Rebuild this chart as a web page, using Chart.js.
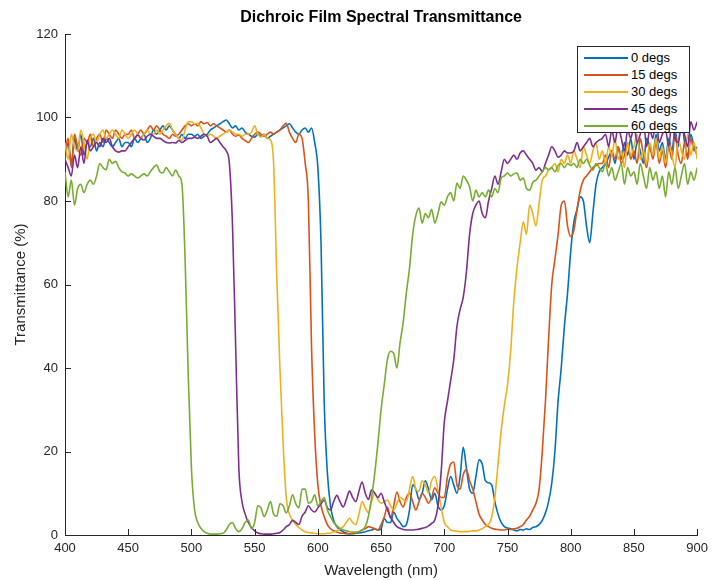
<!DOCTYPE html>
<html>
<head>
<meta charset="utf-8">
<title>Dichroic Film Spectral Transmittance</title>
<script src="https://cdn.jsdelivr.net/npm/chart.js@4.4.1/dist/chart.umd.min.js"></script>
<style>
    html, body { margin: 0; padding: 0; background: #fff; }
    #wrap { position: relative; width: 714px; height: 580px; }
    #legend {
        position: absolute; left: 577px; top: 46px; width: 113px; height: 87px;
        box-sizing: border-box; border: 1px solid #262626; background: #fff;
        font-family: "Liberation Sans", Arial, sans-serif; font-size: 13px; color: #000;
        padding-top: 2px;
    }
    #legend .row { height: 17px; display: flex; align-items: center; white-space: nowrap; }
    #legend .swatch { display: inline-block; width: 44px; height: 2px; margin-left: 6px; margin-right: 3px; }
</style>
</head>
<body>
<div id="wrap">
    <canvas id="chart" width="714" height="580"></canvas>
    <div id="legend"></div>
</div>
<script>
// wavelength grid (nm)
var wavelengths = [
    400, 402.5, 405, 407.5, 410, 412.5, 415, 417.5, 420, 422.5,
    425, 427.5, 430, 432.5, 435, 437.5, 440, 442.5, 445, 447.5,
    450, 452.5, 455, 457.5, 460, 462.5, 465, 467.5, 470, 472.5,
    475, 477.5, 480, 482.5, 485, 487.5, 490, 492.5, 495, 497.5,
    500, 502.5, 505, 507.5, 510, 512.5, 515, 517.5, 520, 522.5,
    525, 527.5, 530, 532.5, 535, 537.5, 540, 542.5, 545, 547.5,
    550, 552.5, 555, 557.5, 560, 562.5, 565, 567.5, 570, 572.5,
    575, 577.5, 580, 582.5, 585, 587.5, 590, 592.5, 595, 597.5,
    600, 602.5, 605, 607.5, 610, 612.5, 615, 617.5, 620, 622.5,
    625, 627.5, 630, 632.5, 635, 637.5, 640, 642.5, 645, 647.5,
    650, 652.5, 655, 657.5, 660, 662.5, 665, 667.5, 670, 672.5,
    675, 677.5, 680, 682.5, 685, 687.5, 690, 692.5, 695, 697.5,
    700, 702.5, 705, 707.5, 710, 712.5, 715, 717.5, 720, 722.5,
    725, 727.5, 730, 732.5, 735, 737.5, 740, 742.5, 745, 747.5,
    750, 752.5, 755, 757.5, 760, 762.5, 765, 767.5, 770, 772.5,
    775, 777.5, 780, 782.5, 785, 787.5, 790, 792.5, 795, 797.5,
    800, 802.5, 805, 807.5, 810, 812.5, 815, 817.5, 820, 822.5,
    825, 827.5, 830, 832.5, 835, 837.5, 840, 842.5, 845, 847.5,
    850, 852.5, 855, 857.5, 860, 862.5, 865, 867.5, 870, 872.5,
    875, 877.5, 880, 882.5, 885, 887.5, 890, 892.5, 895, 897.5,
    900
];

// transmittance (%) per angle of incidence
var deg0 = [
    90, 94, 89, 95, 92, 96, 91, 94, 93, 95,
    92, 94, 93, 95, 94, 93, 94, 95, 93, 94,
    94, 93, 95, 94, 95, 96, 94, 95, 97, 96,
    97, 98, 97, 98, 97, 96, 95, 96, 95, 96,
    96, 95.5, 96, 95, 95.5, 96, 97, 97.5, 98, 98.5,
    99, 99.4, 98.5, 97.5, 98, 97, 97.5, 96.5, 96, 95.5,
    95.3, 96, 95.5, 96, 95, 95.5, 96, 96.5, 97, 97.5,
    98, 98.5, 97.5, 96.5, 96, 97, 97.5, 96.5, 97.5, 94,
    88, 70, 32, 15, 7, 3.5, 2, 1.2, 0.8, 0.5,
    0.3, 0.3, 0.4, 0.5, 0.6, 0.8, 1, 1.2, 1.5, 1.2,
    1.5, 4, 3, 3, 5.5, 4, 3, 2, 2.5, 6,
    12, 11, 8.5, 10, 13, 11, 8.5, 10, 7, 6,
    7, 11, 14, 12, 10, 14, 21, 16, 11, 10,
    14, 18, 17, 13, 12.5, 12, 8, 5, 3, 2,
    1.7, 1.5, 1.2, 1, 1.3, 1.2, 1.5, 1.3, 1.8, 2,
    2.5, 3.5, 5.3, 8, 12.4, 20, 32, 40, 50, 58,
    68, 75, 78, 81, 80, 74, 70, 77, 84, 87,
    88, 89, 90.5, 92, 89, 93, 90, 94, 91, 95,
    90, 94, 92, 89, 95, 93, 91, 96, 92, 94,
    90, 95, 92, 97, 93, 100, 94, 91, 96, 93,
    91
];
var deg15 = [
    92, 95, 88, 96, 93, 91, 95, 94, 96, 93,
    95, 96, 94, 97, 96, 95, 97, 96, 95, 96,
    96, 97, 95, 96, 97, 96, 97, 98, 97, 98,
    97, 96, 95.5, 95, 96, 95.5, 96, 97, 98, 98.5,
    98, 98.5, 98, 99, 98.5, 98.8, 98, 98.5, 98, 97.5,
    97, 96.5, 97, 96, 95.5, 95.8, 95, 94.5, 94, 95,
    96, 96.5, 96, 95.5, 96, 96.5, 96, 96.5, 97, 98,
    98.6, 96.5, 95, 94, 96, 95, 89, 80, 45, 24,
    12, 7, 4.4, 2.5, 1.5, 1, 0.7, 0.5, 0.4, 0.3,
    0.3, 0.4, 0.5, 0.8, 1.2, 1.5, 2, 1.8, 1.5, 1.2,
    2.5, 4.3, 6.7, 4, 7, 10.3, 8, 6.7, 9, 10,
    8, 6, 8, 10, 9, 7.6, 9, 11.3, 10, 9,
    9, 14, 17, 17.5, 12, 11, 14.5, 15.6, 13, 11,
    8, 5, 3.6, 2.5, 2, 1.6, 1.4, 1.3, 1.2, 1.2,
    1.4, 1.3, 1.5, 1.6, 2, 2.5, 3.6, 4.5, 6, 7.6,
    11, 20, 32, 47, 60, 66, 72, 79, 80, 74,
    71.5, 73, 78, 82.5, 85, 86, 87, 88, 88.5, 89,
    89, 91, 88, 92, 90, 93, 89, 91, 94, 90,
    92, 89, 95, 91, 88, 93, 90, 94, 89, 92,
    88, 93, 90, 96, 91, 89, 94, 90, 95, 92,
    93
];
var deg30 = [
    94, 90, 96, 93, 92, 97, 94, 90, 95, 96,
    94, 96, 97, 95, 96, 97, 96, 95, 97, 96,
    95, 96, 97, 96, 95, 96, 97, 96, 96, 97,
    96, 97, 98, 98.6, 97, 96, 95, 94.6, 97, 99,
    99, 98.5, 98.6, 97.5, 96, 95.5, 96, 95.5, 95, 95.5,
    96, 96.5, 97, 96.5, 96, 96, 95.5, 96, 96, 96.5,
    98, 96, 95.3, 96, 95, 94.6, 89, 62, 40, 22,
    9, 5, 3.5, 2.5, 1.8, 1.2, 0.8, 0.6, 0.5, 0.4,
    0.3, 0.3, 0.3, 0.4, 0.5, 0.7, 1, 1.4, 2, 3,
    4, 3, 2.5, 5, 8, 6.5, 5.3, 8, 10, 8.5,
    7.6, 8, 8.4, 7, 6, 7.5, 9, 8.5, 8, 11,
    14, 11, 10.5, 13, 12, 10, 13, 14, 10.8, 6.7,
    3, 2, 1.2, 1, 0.9, 0.8, 0.8, 0.8, 0.9, 1,
    1, 1.2, 1.5, 2, 2.5, 4.3, 9, 17, 25, 31,
    36, 44, 56, 64, 70, 75, 72, 79, 77, 74,
    79.5, 85, 86, 87.4, 88, 89, 87, 90, 89, 91,
    89, 92, 90, 88, 93, 91, 89, 92, 94, 90,
    92, 89, 93, 91, 95, 90, 92, 88, 94, 91,
    93, 96, 90, 92, 89, 94, 91, 95, 90, 93,
    89, 94, 91, 88, 95, 92, 90, 96, 91, 94,
    90
];
var deg45 = [
    90, 88, 86, 91, 88, 93, 89, 94.6, 92, 93,
    94, 93, 95, 94, 95, 93, 92, 91.7, 92, 92,
    93, 94, 95, 95.8, 95, 94.6, 95.5, 96, 95.5, 95,
    95, 94.5, 94, 93.9, 94, 93.9, 94.5, 94, 94.5, 95,
    95, 95.3, 95, 95.5, 96, 95.5, 94, 94.5, 95, 94,
    93, 92, 89, 74, 45, 16, 8, 5, 3, 1.8,
    1, 0.5, 0.3, 0.2, 0.2, 0.2, 0.3, 0.4, 0.6, 1.2,
    2, 2.5, 3.5, 3, 2.5, 4.5, 5.5, 7, 6, 5.5,
    6.5, 7.5, 8.4, 6.5, 6, 8, 9.5, 8, 6.7, 8.5,
    10.5, 9, 8, 10.5, 12.7, 10, 8.5, 10.8, 10, 9,
    10, 8, 6, 4.3, 3, 2, 1.6, 1.3, 1.2, 1.2,
    1.2, 1.3, 1.4, 1.6, 1.8, 2.2, 2.8, 3.6, 7, 15,
    27, 32, 37, 42, 50, 54, 57, 63, 72, 77,
    79, 80, 77, 76, 80, 83, 86, 84, 87, 90,
    89, 90, 91, 90, 91.5, 92, 91, 90, 89, 87.4,
    88, 87, 89, 91, 93, 92, 90.5, 91, 92, 91.5,
    91.5, 92, 94, 92, 93, 94, 95, 93, 94, 94.6,
    95, 96, 93, 97, 94, 98, 95, 92, 97, 95,
    98, 94, 96, 99, 93, 97, 95, 100, 94, 96,
    97, 93, 99, 95, 94, 98, 96, 93, 99, 97,
    99
];
var deg60 = [
    87, 81, 85, 79, 83, 84, 82, 84, 85, 84,
    86, 89, 88, 87.5, 90, 89, 89.5, 88, 87, 86.7,
    86, 86.5, 86, 85.5, 86, 86.5, 86, 87, 88, 88.6,
    87, 86.7, 88, 87, 86, 87.4, 86, 84, 66, 38,
    16, 6, 3, 1.6, 0.8, 0.4, 0.2, 0.2, 0.2, 0.3,
    0.4, 1.2, 2.5, 3, 1.5, 0.8, 1.5, 3, 3.6, 1.5,
    3, 7, 6.5, 4.4, 6, 8, 5, 4.5, 7.5, 7,
    5.3, 7, 9.6, 7.5, 6.5, 11, 11, 7.6, 8, 9.6,
    7, 8, 9, 6, 4.4, 3, 2.2, 1.6, 1.2, 1,
    0.8, 0.7, 0.7, 0.8, 1.2, 2, 4.5, 9, 14.8, 22,
    30, 36, 42, 44, 43.5, 40, 46, 51, 58, 64,
    72, 76.5, 78.3, 74.7, 77, 76, 78, 74.7, 77, 79.8,
    79, 81, 82, 80, 84.3, 83, 86, 85, 83.4, 80,
    82.6, 81, 82, 81, 82.6, 81, 83, 82, 85.5, 86,
    86.7, 86, 86.5, 86.7, 85, 85.5, 83, 82.6, 84.5, 85,
    86, 87, 88, 87.5, 88, 87, 88.5, 89, 88, 89,
    88.5, 89, 88, 90, 89, 90, 88.5, 87.4, 89, 88,
    87, 89, 86, 88, 85, 87, 89, 84, 88, 86,
    87, 84, 89, 86, 83, 88, 85, 87, 83, 86,
    81, 87, 84, 88, 83, 86, 89, 84, 87, 85,
    88
];

var seriesNames = ['0 degs', '15 degs', '30 degs', '45 degs', '60 degs'];
var seriesValues = [deg0, deg15, deg30, deg45, deg60];
var seriesColors = ['#0072BD', '#D95319', '#EDB120', '#7E2F8E', '#77AC30'];
var chartTitle = 'Dichroic Film Spectral Transmittance';

var fontFamily = '"Liberation Sans", Arial, Helvetica, sans-serif';
var axisColor = '#262626';

// MATLAB style: ticks pointing into the plot, title centred over the axes
var axesDecor = {
    id: 'axesDecor',
    afterDraw: function (chart) {
        var ctx = chart.ctx, area = chart.chartArea;
        var xs = chart.scales.x, ys = chart.scales.y;
        ctx.save();
        ctx.strokeStyle = axisColor;
        ctx.lineWidth = 1;
        ctx.beginPath();
        xs.ticks.forEach(function (t) {
            var px = Math.round(xs.getPixelForValue(t.value)) + 0.5;
            ctx.moveTo(px, area.bottom);
            ctx.lineTo(px, area.bottom - 6);
        });
        ys.ticks.forEach(function (t) {
            var py = Math.round(ys.getPixelForValue(t.value)) + 0.5;
            ctx.moveTo(area.left, py);
            ctx.lineTo(area.left + 6, py);
        });
        ctx.stroke();

        ctx.fillStyle = '#000';
        ctx.font = 'bold 16px ' + fontFamily;
        ctx.textAlign = 'center';
        ctx.textBaseline = 'middle';
        ctx.fillText(chartTitle, (area.left + area.right) / 2, 18);
        ctx.restore();
    }
};

var datasets = seriesValues.map(function (vals, i) {
    return {
        label: seriesNames[i],
        data: vals.map(function (v, j) { return { x: wavelengths[j], y: v }; }),
        borderColor: seriesColors[i],
        backgroundColor: seriesColors[i],
        borderWidth: 1.6,
        pointRadius: 0,
        cubicInterpolationMode: 'monotone',
        fill: false,
        order: seriesValues.length - 1 - i
    };
});

new Chart(document.getElementById('chart').getContext('2d'), {
    type: 'line',
    data: { datasets: datasets },
    options: {
        responsive: false,
        animation: false,
        devicePixelRatio: 1,
        layout: { padding: { left: 0, right: 11, top: 34, bottom: 0 } },
        plugins: {
            legend: { display: false },
            tooltip: { enabled: false },
            title: { display: false }
        },
        scales: {
            x: {
                type: 'linear',
                min: 400,
                max: 900,
                grid: { display: false, drawTicks: false },
                border: { display: true, color: axisColor, width: 1 },
                ticks: {
                    stepSize: 50,
                    color: axisColor,
                    padding: 6,
                    maxRotation: 0,
                    font: { family: fontFamily, size: 13 }
                },
                title: {
                    display: true,
                    text: 'Wavelength (nm)',
                    color: axisColor,
                    font: { family: fontFamily, size: 15 },
                    padding: { top: 0, bottom: 0 }
                },
                afterFit: function (scale) { scale.height = 45; }
            },
            y: {
                min: 0,
                max: 120,
                grid: { display: false, drawTicks: false },
                border: { display: true, color: axisColor, width: 1 },
                ticks: {
                    stepSize: 20,
                    color: axisColor,
                    padding: 7,
                    font: { family: fontFamily, size: 13 }
                },
                title: {
                    display: true,
                    text: 'Transmittance (%)',
                    color: axisColor,
                    font: { family: fontFamily, size: 15 },
                    padding: { top: 12, bottom: 0 }
                },
                afterFit: function (scale) { scale.width = 65; }
            }
        }
    },
    plugins: [axesDecor]
});

// legend box in the upper right corner of the axes
var legend = document.getElementById('legend');
seriesNames.forEach(function (name, i) {
    var row = document.createElement('div');
    row.className = 'row';
    var sw = document.createElement('span');
    sw.className = 'swatch';
    sw.style.backgroundColor = seriesColors[i];
    var label = document.createElement('span');
    label.textContent = name;
    row.appendChild(sw);
    row.appendChild(label);
    legend.appendChild(row);
});
</script>
</body>
</html>
